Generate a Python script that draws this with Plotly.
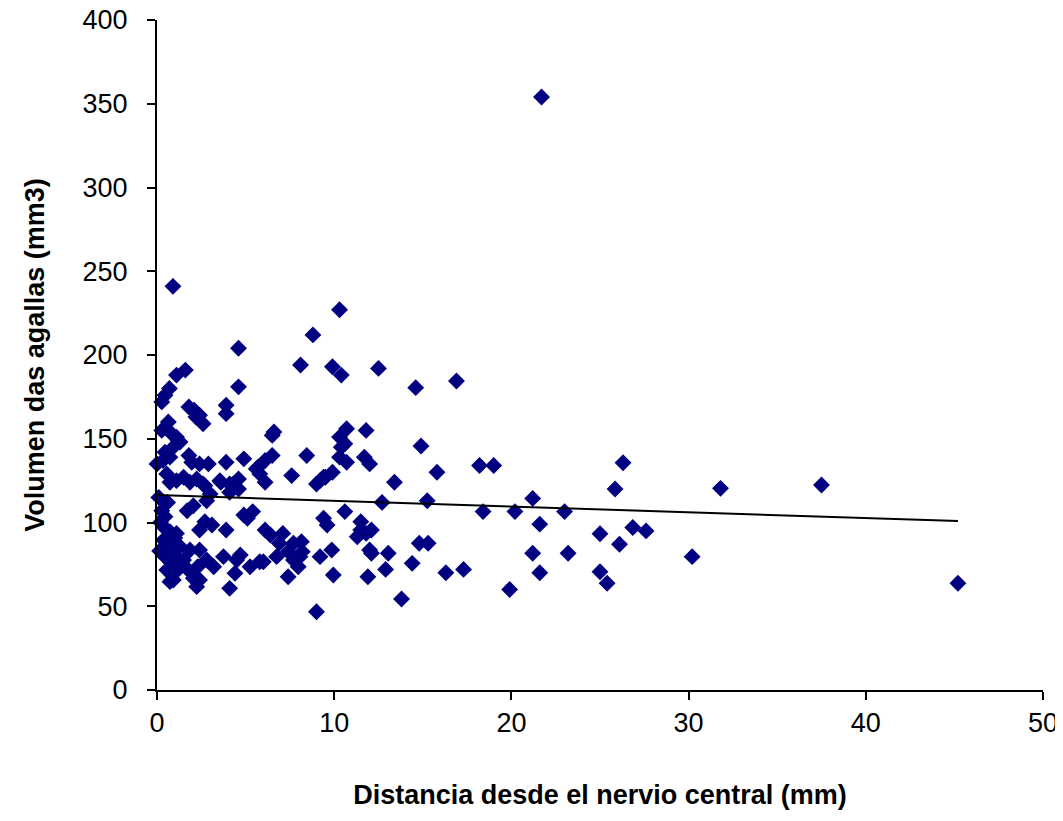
import plotly.graph_objects as go

# Distance from central vein (mm) and gall volume (mm3)
dist_upper = [21.7, 0.9, 10.3, 8.8, 4.6, 12.5, 8.1, 9.9, 10.4, 4.6, 14.6, 16.9, 1.1, 1.6, 0.7, 0.45, 0.27,
              1.8, 2.1, 2.4, 2.6, 2.2, 3.9, 3.9, 0.64, 0.27, 0.83, 1.2, 6.6, 6.5,
              10.3, 10.4, 10.3, 10.7, 10.7, 10.6, 11.8, 11.7, 12.0, 14.9,
              0.45, 0.73, 0.92, 1.1, 1.3]
vol_upper = [354, 241, 227, 212, 204, 192, 194, 193, 188, 181, 180.5, 184.5, 188, 191, 180, 176, 172,
             169, 167, 164, 159, 163, 170, 165, 160, 155, 153, 149, 154, 152,
             151, 145, 139, 136, 156, 147, 155, 139, 135, 145.7,
             142, 139, 145, 151, 148]

dist_mid = [0.34, 0.0, 1.8, 1.96, 2.4, 2.9, 3.9, 4.9, 5.7, 6.5, 6.1, 8.45, 18.2, 19.0, 15.8, 13.4,
            26.3, 25.85, 31.8, 37.5, 5.6, 5.8, 6.1, 7.6, 9.4, 9.0, 9.9, 9.2, 9.5,
            0.73, 0.55, 1.1, 1.5, 1.86, 2.24, 2.6, 2.7, 3.55, 4.3, 4.1, 4.6, 4.6, 4.1, 3.6]
vol_mid = [137, 135, 140, 136, 135, 135, 136, 138, 133, 140, 137, 140, 134, 134, 130, 124,
           135.7, 120, 120.4, 122.4, 132, 129, 124, 128, 127, 123, 130, 125, 127,
           124, 129, 125, 127, 124, 126, 123, 122, 125, 123, 123, 126, 120, 118, 124]

dist_lower = [1.7, 2.05, 3.0, 2.8, 0.27, 0.45, 0.36, 0.73, 0.36, 0.64, 0.45, 0.73, 0.55, 0.92,
              1.0, 1.3, 1.1, 0.1, 0.2, 0.15, 0.6, 1.0, 1.2,
              2.7, 2.4, 3.1, 3.9, 4.9, 5.4, 5.1, 6.1, 6.4, 7.1, 6.9, 7.7, 7.4, 8.15, 8.07, 6.75,
              7.97, 7.4, 6.0, 8.2, 7.7,
              1.86, 2.4, 2.8, 2.3, 1.77, 2.05, 2.4, 2.24, 1.5, 0.73, 3.2, 3.75, 4.5, 4.7, 4.4, 4.1,
              5.25, 5.8,
              9.0, 9.4, 9.6, 9.86, 9.2, 9.95, 10.6,
              11.5, 11.3, 11.8, 12.0, 11.5, 11.9, 12.1, 12.7, 15.25, 12.1, 13.05, 12.9, 13.8, 14.4,
              14.8, 15.3, 16.3, 17.3, 18.4, 19.9, 20.2, 21.2, 21.6, 21.2, 21.6, 23.0, 23.2,
              25.0, 26.1, 26.85, 27.6, 30.2, 25.0, 25.4, 45.2]
vol_lower = [107, 110, 117, 113, 107, 103.5, 97.5, 94.5, 89.5, 85.6, 79.6, 76.7, 71.6, 65.7,
             90.7, 85.6, 93.5, 115, 100, 83, 112, 80, 72,
             100.5, 95.5, 98.5, 95.5, 104.5, 106.5, 102.5, 95.5, 92.5, 93.5, 87.6, 87.6, 82.6, 88.5, 79.6, 79.6,
             73.6, 67.6, 76.6, 82.6, 77.6,
             83.6, 83.6, 77.6, 73.6, 71.6, 66.7, 65.7, 61.7, 77.6, 64.7, 73.6, 79.6, 77.6, 80.6, 69.7, 60.7,
             73.6, 76.6,
             46.7, 102.5, 98.5, 83.6, 79.6, 68.7, 106.5,
             100.5, 91.5, 93.5, 83.6, 95.5, 67.6, 95.5, 112, 113, 81.6, 81.6, 72, 54.3, 75.6,
             87.6, 87.6, 70, 72, 106.5, 60, 106.5, 114.4, 99, 81.6, 70, 106.5, 81.6,
             93.3, 87, 97, 95, 79.6, 70.6, 63.7, 63.7]

distance = dist_upper + dist_mid + dist_lower
volume = vol_upper + vol_mid + vol_lower

# Linear trend line endpoints
trend_x = [0, 45.2]
trend_y = [116.4, 100.9]

x_ticks = [0, 10, 20, 30, 40, 50]
y_ticks = [0, 50, 100, 150, 200, 250, 300, 350, 400]

fig = go.Figure()
fig.add_trace(go.Scatter(
    x=distance, y=volume, mode="markers",
    marker=dict(symbol="diamond", size=13, color="#000080", line=dict(width=0)),
    cliponaxis=False, showlegend=False))
fig.add_trace(go.Scatter(
    x=trend_x, y=trend_y, mode="lines",
    line=dict(color="black", width=2), showlegend=False))

axis_font = dict(family="Liberation Sans, Arial, sans-serif", size=27, color="black")
title_font = dict(family="Liberation Sans, Arial, sans-serif", size=27, color="black")

# The page body adds an 8px margin, so the figure is sized to fit the 1063x821 window
fig.update_layout(
    width=1055, height=813,
    margin=dict(l=149, r=20, t=12, b=131),
    paper_bgcolor="white", plot_bgcolor="white",
    font=axis_font,
    xaxis=dict(range=[0, 50], tickvals=x_ticks, showgrid=False, zeroline=False,
               showline=True, linecolor="black", linewidth=2,
               ticks="outside", ticklen=8, tickwidth=2, tickcolor="black",
               tickfont=axis_font, automargin=False, ticklabeloverflow="allow",
               title=dict(text="<b>Distancia desde el nervio central (mm)</b>", font=title_font, standoff=48)),
    yaxis=dict(range=[0, 400], tickvals=y_ticks, showgrid=False, zeroline=False,
               showline=True, linecolor="black", linewidth=2,
               ticks="outside", ticklen=8, tickwidth=2, tickcolor="black",
               tickfont=axis_font, ticklabelstandoff=14, automargin=False, ticklabeloverflow="allow",
               title=dict(text="<b>Volumen das agallas (mm3)</b>", font=title_font, standoff=30)),
)

fig.write_html("out.html")
